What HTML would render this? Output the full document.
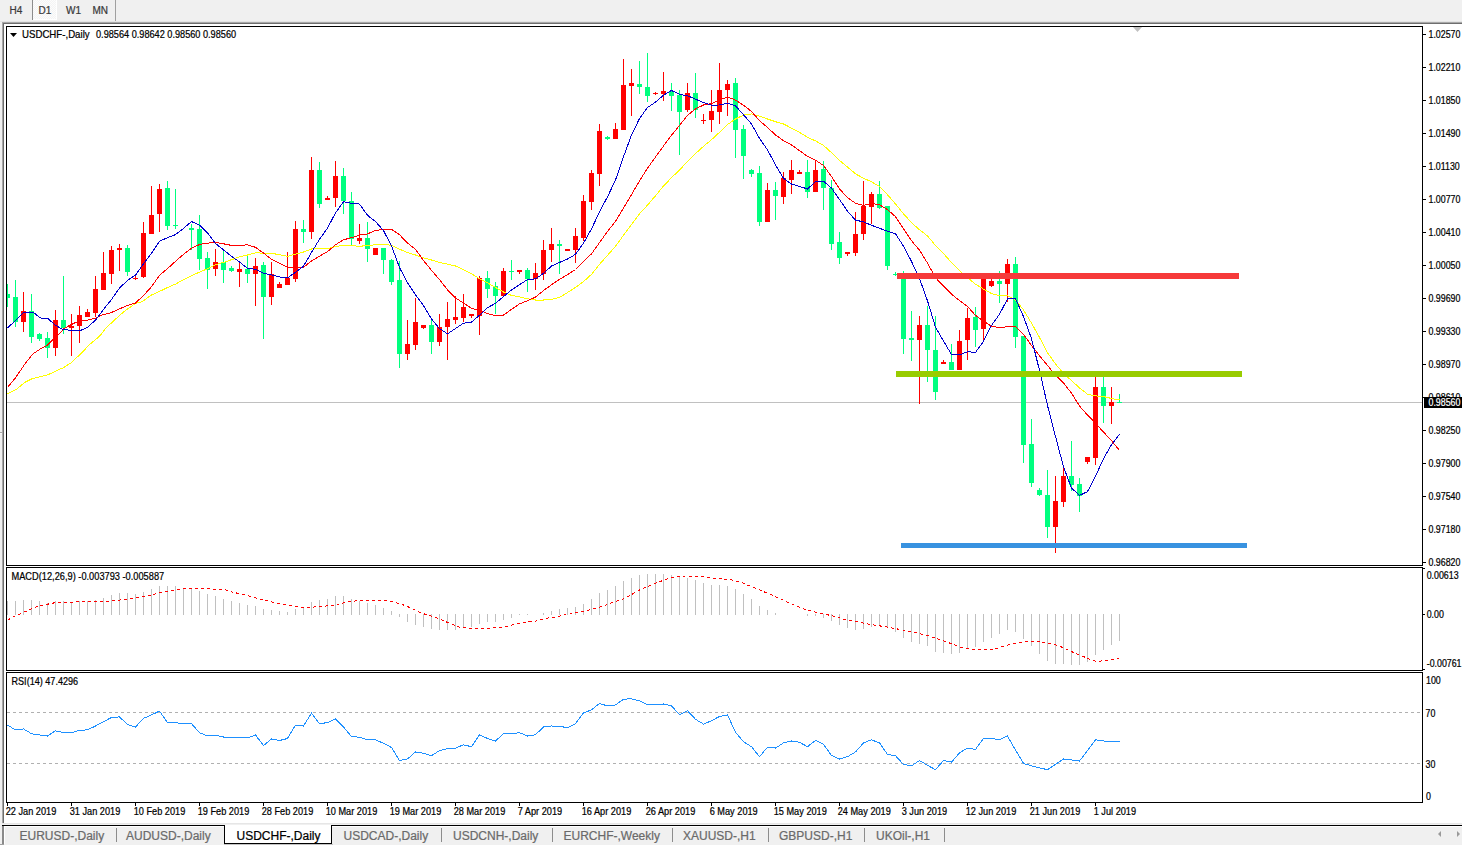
<!DOCTYPE html>
<html><head><meta charset="utf-8"><title>USDCHF-,Daily</title>
<style>
html,body{margin:0;padding:0;width:1462px;height:845px;overflow:hidden;background:#f0f0f0;}
svg{position:absolute;left:0;top:0;display:block}
text{font-family:"Liberation Sans",sans-serif;stroke-width:0.22px;}
</style></head><body>
<svg width="1462" height="845" viewBox="0 0 1462 845">
<defs>
<pattern id="dots" width="2" height="2" patternUnits="userSpaceOnUse"><rect width="2" height="2" fill="#f4f4f4"/><rect width="1" height="1" fill="#fcfcfc"/><rect x="1" y="1" width="1" height="1" fill="#fcfcfc"/></pattern>
<clipPath id="main"><rect x="7" y="27" width="1415" height="538"/></clipPath>
<clipPath id="macd"><rect x="7" y="568" width="1415" height="102"/></clipPath>
<clipPath id="rsi"><rect x="7" y="673" width="1415" height="129"/></clipPath>
</defs>
<rect width="1462" height="845" fill="#f0f0f0"/>

<g shape-rendering="crispEdges">
<rect x="33" y="0" width="24" height="19" fill="url(#dots)"/>
<rect x="56" y="0" width="1" height="20" fill="#ffffff"/><rect x="33" y="19" width="24" height="1" fill="#ffffff"/>
<rect x="32" y="0" width="1" height="20" fill="#8c8c8c"/>
<rect x="115" y="0" width="1" height="21" fill="#a0a0a0"/>
<rect x="0" y="21" width="1462" height="1" fill="#e4e4e4"/>
<rect x="2" y="22" width="1460" height="1" fill="#a8a8a8"/>
<rect x="2" y="23" width="1460" height="1" fill="#6e6e6e"/>
<rect x="2" y="22" width="1" height="802" fill="#a8a8a8"/>
<rect x="3" y="23" width="1" height="801" fill="#6e6e6e"/>
<rect x="4" y="24" width="1458" height="799" fill="#ffffff"/>
<rect x="2" y="823" width="1460" height="1" fill="#e6e6e6"/>
</g>
<g font-size="10" fill="#3a3a3a" stroke="#3a3a3a">
<text x="9.5" y="14">H4</text>
<text x="38.5" y="14">D1</text>
<text x="66" y="14">W1</text>
<text x="92.5" y="14">MN</text>
</g>
<g shape-rendering="crispEdges" fill="#000">
<rect x="6" y="26" width="1417" height="1"/>
<rect x="6" y="565" width="1417" height="1"/>
<rect x="6" y="26" width="1" height="540"/>
<rect x="1422" y="26" width="1" height="540"/>
<rect x="6" y="567" width="1417" height="1"/>
<rect x="6" y="670" width="1417" height="1"/>
<rect x="6" y="567" width="1" height="104"/>
<rect x="1422" y="567" width="1" height="104"/>
<rect x="6" y="672" width="1417" height="1"/>
<rect x="6" y="802" width="1417" height="1"/>
<rect x="6" y="672" width="1" height="131"/>
<rect x="1422" y="672" width="1" height="131"/>
<rect x="1423" y="34" width="3" height="1"/>
<rect x="1423" y="67" width="3" height="1"/>
<rect x="1423" y="100" width="3" height="1"/>
<rect x="1423" y="133" width="3" height="1"/>
<rect x="1423" y="166" width="3" height="1"/>
<rect x="1423" y="199" width="3" height="1"/>
<rect x="1423" y="232" width="3" height="1"/>
<rect x="1423" y="265" width="3" height="1"/>
<rect x="1423" y="298" width="3" height="1"/>
<rect x="1423" y="331" width="3" height="1"/>
<rect x="1423" y="364" width="3" height="1"/>
<rect x="1423" y="397" width="3" height="1"/>
<rect x="1423" y="430" width="3" height="1"/>
<rect x="1423" y="463" width="3" height="1"/>
<rect x="1423" y="496" width="3" height="1"/>
<rect x="1423" y="529" width="3" height="1"/>
<rect x="1423" y="562" width="3" height="1"/>
<rect x="1423" y="568" width="2" height="1"/>
<rect x="1423" y="614" width="2" height="1"/>
<rect x="1423" y="669" width="2" height="1"/>
<rect x="7" y="803" width="1" height="3"/>
<rect x="71" y="803" width="1" height="3"/>
<rect x="135" y="803" width="1" height="3"/>
<rect x="199" y="803" width="1" height="3"/>
<rect x="263" y="803" width="1" height="3"/>
<rect x="327" y="803" width="1" height="3"/>
<rect x="391" y="803" width="1" height="3"/>
<rect x="455" y="803" width="1" height="3"/>
<rect x="519" y="803" width="1" height="3"/>
<rect x="583" y="803" width="1" height="3"/>
<rect x="647" y="803" width="1" height="3"/>
<rect x="711" y="803" width="1" height="3"/>
<rect x="775" y="803" width="1" height="3"/>
<rect x="839" y="803" width="1" height="3"/>
<rect x="903" y="803" width="1" height="3"/>
<rect x="967" y="803" width="1" height="3"/>
<rect x="1031" y="803" width="1" height="3"/>
<rect x="1095" y="803" width="1" height="3"/>
</g>
<g clip-path="url(#main)">
<rect x="7" y="402" width="1415" height="1" fill="#c0c0c0" shape-rendering="crispEdges"/>
<polygon points="1133,27 1142,27 1137.5,32" fill="#c0c0c0"/>
<g shape-rendering="crispEdges">
<rect x="7" y="284" width="1" height="23" fill="#00ff7f"/>
<rect x="5" y="294" width="5" height="4" fill="#00ff7f"/>
<rect x="15" y="280" width="1" height="47" fill="#00ff7f"/>
<rect x="13" y="297" width="5" height="25" fill="#00ff7f"/>
<rect x="23" y="292" width="1" height="40" fill="#ff0000"/>
<rect x="21" y="311" width="5" height="11" fill="#ff0000"/>
<rect x="31" y="294" width="1" height="49" fill="#00ff7f"/>
<rect x="29" y="311" width="5" height="26" fill="#00ff7f"/>
<rect x="39" y="333" width="1" height="8" fill="#00ff7f"/>
<rect x="37" y="334" width="5" height="5" fill="#00ff7f"/>
<rect x="47" y="332" width="1" height="26" fill="#00ff7f"/>
<rect x="45" y="338" width="5" height="10" fill="#00ff7f"/>
<rect x="55" y="310" width="1" height="46" fill="#ff0000"/>
<rect x="53" y="320" width="5" height="28" fill="#ff0000"/>
<rect x="63" y="276" width="1" height="58" fill="#00ff7f"/>
<rect x="61" y="320" width="5" height="8" fill="#00ff7f"/>
<rect x="71" y="314" width="1" height="42" fill="#ff0000"/>
<rect x="69" y="326" width="5" height="2" fill="#ff0000"/>
<rect x="79" y="306" width="1" height="37" fill="#ff0000"/>
<rect x="77" y="315" width="5" height="11" fill="#ff0000"/>
<rect x="87" y="309" width="1" height="8" fill="#ff0000"/>
<rect x="85" y="312" width="5" height="5" fill="#ff0000"/>
<rect x="95" y="276" width="1" height="41" fill="#ff0000"/>
<rect x="93" y="289" width="5" height="24" fill="#ff0000"/>
<rect x="103" y="252" width="1" height="38" fill="#ff0000"/>
<rect x="101" y="273" width="5" height="17" fill="#ff0000"/>
<rect x="111" y="246" width="1" height="38" fill="#ff0000"/>
<rect x="109" y="250" width="5" height="24" fill="#ff0000"/>
<rect x="119" y="244" width="1" height="27" fill="#ff0000"/>
<rect x="117" y="248" width="5" height="2" fill="#ff0000"/>
<rect x="127" y="245" width="1" height="31" fill="#00ff7f"/>
<rect x="125" y="248" width="5" height="24" fill="#00ff7f"/>
<rect x="135" y="275" width="1" height="5" fill="#ff0000"/>
<rect x="133" y="278" width="5" height="1" fill="#ff0000"/>
<rect x="143" y="222" width="1" height="56" fill="#ff0000"/>
<rect x="141" y="233" width="5" height="44" fill="#ff0000"/>
<rect x="151" y="186" width="1" height="48" fill="#ff0000"/>
<rect x="149" y="215" width="5" height="19" fill="#ff0000"/>
<rect x="159" y="184" width="1" height="48" fill="#ff0000"/>
<rect x="157" y="189" width="5" height="25" fill="#ff0000"/>
<rect x="167" y="181" width="1" height="49" fill="#00ff7f"/>
<rect x="165" y="188" width="5" height="38" fill="#00ff7f"/>
<rect x="175" y="189" width="1" height="40" fill="#00ff7f"/>
<rect x="173" y="225" width="5" height="1" fill="#00ff7f"/>
<rect x="191" y="224" width="1" height="26" fill="#00ff7f"/>
<rect x="189" y="228" width="5" height="2" fill="#00ff7f"/>
<rect x="199" y="215" width="1" height="55" fill="#00ff7f"/>
<rect x="197" y="229" width="5" height="30" fill="#00ff7f"/>
<rect x="207" y="252" width="1" height="37" fill="#00ff7f"/>
<rect x="205" y="258" width="5" height="12" fill="#00ff7f"/>
<rect x="215" y="249" width="1" height="27" fill="#ff0000"/>
<rect x="213" y="262" width="5" height="7" fill="#ff0000"/>
<rect x="223" y="250" width="1" height="33" fill="#00ff7f"/>
<rect x="221" y="262" width="5" height="8" fill="#00ff7f"/>
<rect x="231" y="266" width="1" height="6" fill="#00ff7f"/>
<rect x="229" y="268" width="5" height="3" fill="#00ff7f"/>
<rect x="239" y="262" width="1" height="25" fill="#ff0000"/>
<rect x="237" y="269" width="5" height="3" fill="#ff0000"/>
<rect x="247" y="254" width="1" height="29" fill="#00ff7f"/>
<rect x="245" y="269" width="5" height="5" fill="#00ff7f"/>
<rect x="255" y="258" width="1" height="48" fill="#ff0000"/>
<rect x="253" y="266" width="5" height="8" fill="#ff0000"/>
<rect x="263" y="262" width="1" height="77" fill="#00ff7f"/>
<rect x="261" y="265" width="5" height="32" fill="#00ff7f"/>
<rect x="271" y="262" width="1" height="43" fill="#ff0000"/>
<rect x="269" y="274" width="5" height="23" fill="#ff0000"/>
<rect x="279" y="282" width="1" height="6" fill="#ff0000"/>
<rect x="277" y="284" width="5" height="4" fill="#ff0000"/>
<rect x="287" y="252" width="1" height="33" fill="#ff0000"/>
<rect x="285" y="278" width="5" height="7" fill="#ff0000"/>
<rect x="295" y="221" width="1" height="61" fill="#ff0000"/>
<rect x="293" y="229" width="5" height="50" fill="#ff0000"/>
<rect x="303" y="220" width="1" height="23" fill="#00ff7f"/>
<rect x="301" y="229" width="5" height="3" fill="#00ff7f"/>
<rect x="311" y="157" width="1" height="82" fill="#ff0000"/>
<rect x="309" y="170" width="5" height="62" fill="#ff0000"/>
<rect x="319" y="162" width="1" height="46" fill="#00ff7f"/>
<rect x="317" y="170" width="5" height="34" fill="#00ff7f"/>
<rect x="327" y="196" width="1" height="4" fill="#ff0000"/>
<rect x="325" y="198" width="5" height="2" fill="#ff0000"/>
<rect x="335" y="161" width="1" height="46" fill="#ff0000"/>
<rect x="333" y="176" width="5" height="22" fill="#ff0000"/>
<rect x="343" y="168" width="1" height="46" fill="#00ff7f"/>
<rect x="341" y="176" width="5" height="25" fill="#00ff7f"/>
<rect x="351" y="192" width="1" height="54" fill="#00ff7f"/>
<rect x="349" y="201" width="5" height="38" fill="#00ff7f"/>
<rect x="359" y="224" width="1" height="20" fill="#ff0000"/>
<rect x="357" y="238" width="5" height="3" fill="#ff0000"/>
<rect x="367" y="222" width="1" height="40" fill="#00ff7f"/>
<rect x="365" y="238" width="5" height="11" fill="#00ff7f"/>
<rect x="375" y="248" width="1" height="7" fill="#ff0000"/>
<rect x="373" y="248" width="5" height="7" fill="#ff0000"/>
<rect x="383" y="248" width="1" height="26" fill="#00ff7f"/>
<rect x="381" y="248" width="5" height="12" fill="#00ff7f"/>
<rect x="391" y="259" width="1" height="26" fill="#00ff7f"/>
<rect x="389" y="260" width="5" height="22" fill="#00ff7f"/>
<rect x="399" y="261" width="1" height="107" fill="#00ff7f"/>
<rect x="397" y="280" width="5" height="74" fill="#00ff7f"/>
<rect x="407" y="320" width="1" height="40" fill="#ff0000"/>
<rect x="405" y="344" width="5" height="10" fill="#ff0000"/>
<rect x="415" y="298" width="1" height="52" fill="#ff0000"/>
<rect x="413" y="322" width="5" height="23" fill="#ff0000"/>
<rect x="423" y="325" width="1" height="4" fill="#ff0000"/>
<rect x="421" y="325" width="5" height="3" fill="#ff0000"/>
<rect x="431" y="320" width="1" height="34" fill="#00ff7f"/>
<rect x="429" y="325" width="5" height="17" fill="#00ff7f"/>
<rect x="439" y="314" width="1" height="32" fill="#ff0000"/>
<rect x="437" y="327" width="5" height="15" fill="#ff0000"/>
<rect x="447" y="302" width="1" height="58" fill="#ff0000"/>
<rect x="445" y="319" width="5" height="8" fill="#ff0000"/>
<rect x="455" y="296" width="1" height="28" fill="#ff0000"/>
<rect x="453" y="317" width="5" height="3" fill="#ff0000"/>
<rect x="463" y="294" width="1" height="28" fill="#ff0000"/>
<rect x="461" y="307" width="5" height="11" fill="#ff0000"/>
<rect x="471" y="314" width="1" height="4" fill="#ff0000"/>
<rect x="469" y="314" width="5" height="2" fill="#ff0000"/>
<rect x="479" y="276" width="1" height="59" fill="#ff0000"/>
<rect x="477" y="278" width="5" height="38" fill="#ff0000"/>
<rect x="487" y="271" width="1" height="27" fill="#00ff7f"/>
<rect x="485" y="278" width="5" height="11" fill="#00ff7f"/>
<rect x="495" y="282" width="1" height="32" fill="#00ff7f"/>
<rect x="493" y="286" width="5" height="10" fill="#00ff7f"/>
<rect x="503" y="268" width="1" height="28" fill="#ff0000"/>
<rect x="501" y="271" width="5" height="25" fill="#ff0000"/>
<rect x="511" y="260" width="1" height="20" fill="#00ff7f"/>
<rect x="509" y="271" width="5" height="1" fill="#00ff7f"/>
<rect x="519" y="270" width="1" height="4" fill="#ff0000"/>
<rect x="517" y="270" width="5" height="2" fill="#ff0000"/>
<rect x="527" y="268" width="1" height="24" fill="#00ff7f"/>
<rect x="525" y="270" width="5" height="9" fill="#00ff7f"/>
<rect x="535" y="263" width="1" height="27" fill="#ff0000"/>
<rect x="533" y="273" width="5" height="6" fill="#ff0000"/>
<rect x="543" y="240" width="1" height="40" fill="#ff0000"/>
<rect x="541" y="250" width="5" height="24" fill="#ff0000"/>
<rect x="551" y="228" width="1" height="34" fill="#ff0000"/>
<rect x="549" y="244" width="5" height="6" fill="#ff0000"/>
<rect x="559" y="240" width="1" height="34" fill="#00ff7f"/>
<rect x="557" y="244" width="5" height="2" fill="#00ff7f"/>
<rect x="567" y="249" width="1" height="2" fill="#ff0000"/>
<rect x="565" y="249" width="5" height="2" fill="#ff0000"/>
<rect x="575" y="228" width="1" height="35" fill="#ff0000"/>
<rect x="573" y="236" width="5" height="14" fill="#ff0000"/>
<rect x="583" y="195" width="1" height="46" fill="#ff0000"/>
<rect x="581" y="201" width="5" height="37" fill="#ff0000"/>
<rect x="591" y="170" width="1" height="40" fill="#ff0000"/>
<rect x="589" y="173" width="5" height="29" fill="#ff0000"/>
<rect x="599" y="124" width="1" height="62" fill="#ff0000"/>
<rect x="597" y="131" width="5" height="43" fill="#ff0000"/>
<rect x="607" y="136" width="1" height="4" fill="#00ff7f"/>
<rect x="605" y="137" width="5" height="2" fill="#00ff7f"/>
<rect x="615" y="123" width="1" height="16" fill="#ff0000"/>
<rect x="613" y="129" width="5" height="10" fill="#ff0000"/>
<rect x="623" y="59" width="1" height="71" fill="#ff0000"/>
<rect x="621" y="85" width="5" height="45" fill="#ff0000"/>
<rect x="631" y="69" width="1" height="47" fill="#ff0000"/>
<rect x="629" y="83" width="5" height="3" fill="#ff0000"/>
<rect x="639" y="61" width="1" height="33" fill="#00ff7f"/>
<rect x="637" y="84" width="5" height="3" fill="#00ff7f"/>
<rect x="647" y="53" width="1" height="49" fill="#00ff7f"/>
<rect x="645" y="87" width="5" height="9" fill="#00ff7f"/>
<rect x="655" y="92" width="1" height="3" fill="#ff0000"/>
<rect x="653" y="93" width="5" height="1" fill="#ff0000"/>
<rect x="663" y="72" width="1" height="29" fill="#ff0000"/>
<rect x="661" y="91" width="5" height="3" fill="#ff0000"/>
<rect x="671" y="83" width="1" height="28" fill="#00ff7f"/>
<rect x="669" y="91" width="5" height="5" fill="#00ff7f"/>
<rect x="679" y="90" width="1" height="65" fill="#00ff7f"/>
<rect x="677" y="95" width="5" height="17" fill="#00ff7f"/>
<rect x="687" y="83" width="1" height="29" fill="#ff0000"/>
<rect x="685" y="93" width="5" height="17" fill="#ff0000"/>
<rect x="695" y="73" width="1" height="45" fill="#00ff7f"/>
<rect x="693" y="93" width="5" height="17" fill="#00ff7f"/>
<rect x="703" y="114" width="1" height="10" fill="#ff0000"/>
<rect x="701" y="120" width="5" height="1" fill="#ff0000"/>
<rect x="711" y="90" width="1" height="42" fill="#ff0000"/>
<rect x="709" y="111" width="5" height="9" fill="#ff0000"/>
<rect x="719" y="63" width="1" height="61" fill="#ff0000"/>
<rect x="717" y="90" width="5" height="22" fill="#ff0000"/>
<rect x="727" y="80" width="1" height="36" fill="#ff0000"/>
<rect x="725" y="84" width="5" height="6" fill="#ff0000"/>
<rect x="735" y="78" width="1" height="80" fill="#00ff7f"/>
<rect x="733" y="83" width="5" height="47" fill="#00ff7f"/>
<rect x="743" y="125" width="1" height="54" fill="#00ff7f"/>
<rect x="741" y="129" width="5" height="27" fill="#00ff7f"/>
<rect x="751" y="169" width="1" height="8" fill="#00ff7f"/>
<rect x="749" y="170" width="5" height="4" fill="#00ff7f"/>
<rect x="759" y="166" width="1" height="60" fill="#00ff7f"/>
<rect x="757" y="173" width="5" height="49" fill="#00ff7f"/>
<rect x="767" y="183" width="1" height="39" fill="#ff0000"/>
<rect x="765" y="190" width="5" height="32" fill="#ff0000"/>
<rect x="775" y="182" width="1" height="38" fill="#00ff7f"/>
<rect x="773" y="190" width="5" height="6" fill="#00ff7f"/>
<rect x="783" y="172" width="1" height="32" fill="#ff0000"/>
<rect x="781" y="178" width="5" height="19" fill="#ff0000"/>
<rect x="791" y="160" width="1" height="34" fill="#ff0000"/>
<rect x="789" y="170" width="5" height="10" fill="#ff0000"/>
<rect x="799" y="170" width="1" height="4" fill="#ff0000"/>
<rect x="797" y="172" width="5" height="2" fill="#ff0000"/>
<rect x="807" y="160" width="1" height="38" fill="#00ff7f"/>
<rect x="805" y="172" width="5" height="20" fill="#00ff7f"/>
<rect x="815" y="161" width="1" height="31" fill="#ff0000"/>
<rect x="813" y="170" width="5" height="22" fill="#ff0000"/>
<rect x="823" y="161" width="1" height="49" fill="#00ff7f"/>
<rect x="821" y="169" width="5" height="19" fill="#00ff7f"/>
<rect x="831" y="180" width="1" height="70" fill="#00ff7f"/>
<rect x="829" y="188" width="5" height="56" fill="#00ff7f"/>
<rect x="839" y="232" width="1" height="32" fill="#00ff7f"/>
<rect x="837" y="242" width="5" height="16" fill="#00ff7f"/>
<rect x="847" y="252" width="1" height="4" fill="#ff0000"/>
<rect x="845" y="252" width="5" height="2" fill="#ff0000"/>
<rect x="855" y="212" width="1" height="44" fill="#ff0000"/>
<rect x="853" y="234" width="5" height="19" fill="#ff0000"/>
<rect x="863" y="181" width="1" height="59" fill="#ff0000"/>
<rect x="861" y="206" width="5" height="28" fill="#ff0000"/>
<rect x="871" y="192" width="1" height="32" fill="#ff0000"/>
<rect x="869" y="194" width="5" height="13" fill="#ff0000"/>
<rect x="879" y="181" width="1" height="28" fill="#00ff7f"/>
<rect x="877" y="194" width="5" height="14" fill="#00ff7f"/>
<rect x="887" y="206" width="1" height="64" fill="#00ff7f"/>
<rect x="885" y="206" width="5" height="60" fill="#00ff7f"/>
<rect x="895" y="272" width="1" height="4" fill="#00ff7f"/>
<rect x="893" y="274" width="5" height="1" fill="#00ff7f"/>
<rect x="903" y="271" width="1" height="83" fill="#00ff7f"/>
<rect x="901" y="279" width="5" height="60" fill="#00ff7f"/>
<rect x="911" y="311" width="1" height="50" fill="#00ff7f"/>
<rect x="909" y="338" width="5" height="2" fill="#00ff7f"/>
<rect x="919" y="316" width="1" height="88" fill="#ff0000"/>
<rect x="917" y="325" width="5" height="15" fill="#ff0000"/>
<rect x="927" y="306" width="1" height="76" fill="#00ff7f"/>
<rect x="925" y="325" width="5" height="25" fill="#00ff7f"/>
<rect x="935" y="316" width="1" height="84" fill="#00ff7f"/>
<rect x="933" y="350" width="5" height="42" fill="#00ff7f"/>
<rect x="943" y="360" width="1" height="4" fill="#ff0000"/>
<rect x="941" y="362" width="5" height="2" fill="#ff0000"/>
<rect x="951" y="344" width="1" height="26" fill="#00ff7f"/>
<rect x="949" y="362" width="5" height="8" fill="#00ff7f"/>
<rect x="959" y="330" width="1" height="40" fill="#ff0000"/>
<rect x="957" y="341" width="5" height="29" fill="#ff0000"/>
<rect x="967" y="308" width="1" height="52" fill="#ff0000"/>
<rect x="965" y="318" width="5" height="22" fill="#ff0000"/>
<rect x="975" y="307" width="1" height="40" fill="#00ff7f"/>
<rect x="973" y="317" width="5" height="13" fill="#00ff7f"/>
<rect x="983" y="273" width="1" height="68" fill="#ff0000"/>
<rect x="981" y="273" width="5" height="56" fill="#ff0000"/>
<rect x="991" y="273" width="1" height="14" fill="#ff0000"/>
<rect x="989" y="281" width="5" height="5" fill="#ff0000"/>
<rect x="999" y="271" width="1" height="32" fill="#00ff7f"/>
<rect x="997" y="281" width="5" height="3" fill="#00ff7f"/>
<rect x="1007" y="259" width="1" height="43" fill="#ff0000"/>
<rect x="1005" y="264" width="5" height="20" fill="#ff0000"/>
<rect x="1015" y="257" width="1" height="91" fill="#00ff7f"/>
<rect x="1013" y="264" width="5" height="73" fill="#00ff7f"/>
<rect x="1023" y="336" width="1" height="127" fill="#00ff7f"/>
<rect x="1021" y="336" width="5" height="109" fill="#00ff7f"/>
<rect x="1031" y="419" width="1" height="68" fill="#00ff7f"/>
<rect x="1029" y="444" width="5" height="39" fill="#00ff7f"/>
<rect x="1039" y="488" width="1" height="8" fill="#00ff7f"/>
<rect x="1037" y="490" width="5" height="5" fill="#00ff7f"/>
<rect x="1047" y="470" width="1" height="68" fill="#00ff7f"/>
<rect x="1045" y="495" width="5" height="32" fill="#00ff7f"/>
<rect x="1055" y="476" width="1" height="77" fill="#ff0000"/>
<rect x="1053" y="501" width="5" height="26" fill="#ff0000"/>
<rect x="1063" y="468" width="1" height="39" fill="#ff0000"/>
<rect x="1061" y="476" width="5" height="26" fill="#ff0000"/>
<rect x="1071" y="441" width="1" height="50" fill="#00ff7f"/>
<rect x="1069" y="476" width="5" height="9" fill="#00ff7f"/>
<rect x="1079" y="478" width="1" height="34" fill="#00ff7f"/>
<rect x="1077" y="484" width="5" height="12" fill="#00ff7f"/>
<rect x="1087" y="457" width="1" height="7" fill="#ff0000"/>
<rect x="1085" y="457" width="5" height="5" fill="#ff0000"/>
<rect x="1095" y="377" width="1" height="88" fill="#ff0000"/>
<rect x="1093" y="387" width="5" height="71" fill="#ff0000"/>
<rect x="1103" y="377" width="1" height="46" fill="#00ff7f"/>
<rect x="1101" y="387" width="5" height="19" fill="#00ff7f"/>
<rect x="1111" y="387" width="1" height="37" fill="#ff0000"/>
<rect x="1109" y="402" width="5" height="4" fill="#ff0000"/>
<rect x="1119" y="394" width="1" height="9" fill="#00ff7f"/>
<rect x="1117" y="402" width="5" height="1" fill="#00ff7f"/>
</g>
<polyline points="7.6,393.9 15.9,389.7 25.4,382.0 32.5,378.5 40.7,376.7 47.8,374.9 56.1,370.8 63.2,367.8 71.5,362.5 83.3,351.3 88.0,346.0 100.5,335.3 105.5,328.5 120.5,314.5 125.5,310.5 135.5,303.5 142.5,301.5 150.5,295.5 161.5,290.5 167.5,287.5 175.5,284.1 183.5,279.7 191.5,275.8 199.5,272.1 207.5,268.8 215.5,264.7 223.5,262.4 231.5,259.7 239.5,256.9 247.5,255.0 255.5,252.8 263.5,253.2 271.5,253.2 279.5,254.8 287.5,256.3 295.5,254.2 303.5,252.0 311.5,249.0 319.5,248.5 327.5,248.9 335.5,246.5 343.5,245.3 351.5,245.8 359.5,246.2 367.5,245.7 375.5,244.7 383.5,244.6 391.5,245.2 399.5,249.1 407.5,252.7 415.5,255.0 423.5,257.8 431.5,260.0 439.5,262.5 447.5,264.1 455.5,266.0 463.5,269.7 471.5,273.6 479.5,278.8 487.5,282.8 495.5,287.5 503.5,292.0 511.5,295.4 519.5,296.9 527.5,298.8 535.5,300.0 543.5,300.0 551.5,299.3 559.5,297.5 567.5,292.5 575.5,287.4 583.5,281.6 591.5,274.4 599.5,264.3 607.5,255.4 615.5,246.3 623.5,235.3 631.5,224.6 639.5,213.8 647.5,205.1 655.5,195.8 663.5,186.0 671.5,177.7 679.5,170.0 687.5,161.6 695.5,153.6 703.5,146.3 711.5,139.7 719.5,132.3 727.5,124.6 735.5,119.0 743.5,115.1 751.5,113.9 759.5,116.2 767.5,119.0 775.5,121.7 783.5,124.0 791.5,128.1 799.5,132.3 807.5,137.3 815.5,140.9 823.5,145.4 831.5,152.7 839.5,160.4 847.5,167.0 855.5,173.8 863.5,178.3 871.5,181.8 879.5,186.4 887.5,194.8 895.5,203.9 903.5,213.8 911.5,222.6 919.5,229.8 927.5,235.9 935.5,245.5 943.5,253.5 951.5,262.6 959.5,270.8 967.5,277.7 975.5,284.2 983.5,289.1 991.5,293.6 999.5,295.5 1007.5,295.8 1015.5,299.9 1023.5,309.9 1031.5,323.1 1039.5,337.5 1047.5,352.7 1055.5,363.9 1063.5,373.5 1071.5,380.5 1079.5,387.9 1087.5,394.2 1095.5,395.9 1103.5,396.5 1111.5,398.5 1119.5,400.0" fill="none" stroke="#ffff00" stroke-width="1" shape-rendering="crispEdges" />
<polyline points="7.5,387.4 15.9,377.3 24.2,364.9 32.5,354.2 39.5,349.5 47.8,344.8 52.5,340.0 59.7,333.5 64.4,328.2 71.5,324.5 78.5,321.1 85.5,320.5 95.2,318.4 100.5,315.5 111.5,312.5 119.5,308.9 127.5,305.4 135.5,303.0 143.5,295.5 151.5,286.7 159.5,275.3 167.5,268.6 175.5,261.3 183.5,254.4 191.5,248.3 199.5,244.5 207.5,243.1 215.5,242.4 223.5,243.8 231.5,245.4 239.5,245.2 247.5,244.9 255.5,247.3 263.5,253.1 271.5,259.2 279.5,263.4 287.5,267.1 295.5,267.1 303.5,267.3 311.5,260.9 319.5,256.2 327.5,251.6 335.5,244.8 343.5,239.8 351.5,237.7 359.5,235.1 367.5,233.9 375.5,230.4 383.5,229.4 391.5,229.3 399.5,234.7 407.5,243.0 415.5,249.4 423.5,260.5 431.5,270.3 439.5,279.6 447.5,289.8 455.5,298.1 463.5,302.9 471.5,308.4 479.5,310.5 487.5,313.4 495.5,315.9 503.5,315.1 511.5,309.3 519.5,303.9 527.5,300.8 535.5,297.1 543.5,290.6 551.5,284.7 559.5,279.4 567.5,274.6 575.5,269.5 583.5,261.4 591.5,253.9 599.5,242.6 607.5,231.4 615.5,221.3 623.5,207.9 631.5,194.6 639.5,180.9 647.5,168.2 655.5,157.0 663.5,146.0 671.5,135.3 679.5,125.5 687.5,115.3 695.5,108.9 703.5,105.0 711.5,103.6 719.5,100.1 727.5,96.9 735.5,100.1 743.5,105.2 751.5,111.5 759.5,120.6 767.5,127.5 775.5,134.9 783.5,140.8 791.5,144.9 799.5,150.6 807.5,156.4 815.5,160.1 823.5,165.5 831.5,176.5 839.5,188.9 847.5,197.7 855.5,203.2 863.5,205.5 871.5,203.4 879.5,204.7 887.5,209.7 895.5,216.6 903.5,228.7 911.5,240.7 919.5,250.2 927.5,263.1 935.5,277.7 943.5,286.2 951.5,294.2 959.5,300.6 967.5,306.5 975.5,315.4 983.5,321.1 991.5,326.3 999.5,327.6 1007.5,326.8 1015.5,326.7 1023.5,334.2 1031.5,345.5 1039.5,355.8 1047.5,365.4 1055.5,375.3 1063.5,382.9 1071.5,393.2 1079.5,406.0 1087.5,415.1 1095.5,423.2 1103.5,432.1 1111.5,440.6 1119.5,450.5" fill="none" stroke="#ff0000" stroke-width="1" shape-rendering="crispEdges" />
<polyline points="7.5,328.0 15.5,320.5 24.2,312.0 33.5,312.5 40.5,318.0 47.8,318.5 55.5,325.4 63.5,329.7 71.5,330.3 79.5,330.9 87.5,327.3 95.5,320.1 103.5,309.4 111.5,299.5 119.5,288.1 127.5,280.4 135.5,275.1 143.5,263.8 151.5,253.2 159.5,241.2 167.5,237.7 175.5,234.6 183.5,228.4 191.5,221.5 199.5,225.2 207.5,233.0 215.5,243.5 223.5,249.9 231.5,256.3 239.5,262.0 247.5,268.3 255.5,269.4 263.5,273.2 271.5,274.9 279.5,276.9 287.5,277.9 295.5,272.2 303.5,266.2 311.5,252.5 319.5,239.2 327.5,228.2 335.5,212.8 343.5,201.8 351.5,203.2 359.5,204.1 367.5,215.3 375.5,221.6 383.5,230.6 391.5,245.8 399.5,267.6 407.5,282.7 415.5,294.7 423.5,305.6 431.5,319.0 439.5,328.5 447.5,333.8 455.5,328.5 463.5,323.2 471.5,322.1 479.5,315.3 487.5,307.7 495.5,303.3 503.5,296.5 511.5,290.0 519.5,284.7 527.5,279.6 535.5,278.9 543.5,273.4 551.5,266.0 559.5,262.4 567.5,259.1 575.5,254.3 583.5,243.2 591.5,228.9 599.5,211.9 607.5,196.8 615.5,180.1 623.5,156.8 631.5,134.9 639.5,118.6 647.5,107.5 655.5,102.1 663.5,95.2 671.5,90.5 679.5,94.3 687.5,95.8 695.5,99.1 703.5,102.6 711.5,105.1 719.5,105.0 727.5,103.3 735.5,105.8 743.5,114.8 751.5,123.9 759.5,138.5 767.5,149.8 775.5,164.9 783.5,178.4 791.5,184.1 799.5,186.4 807.5,189.0 815.5,181.6 823.5,181.2 831.5,188.1 839.5,199.5 847.5,211.2 855.5,220.1 863.5,221.9 871.5,225.3 879.5,228.2 887.5,231.3 895.5,233.8 903.5,246.2 911.5,261.4 919.5,278.4 927.5,300.8 935.5,327.2 943.5,341.0 951.5,354.6 959.5,354.9 967.5,351.7 975.5,352.4 983.5,341.3 991.5,325.4 999.5,314.2 1007.5,299.0 1015.5,298.5 1023.5,316.6 1031.5,338.6 1039.5,370.3 1047.5,405.5 1055.5,436.5 1063.5,466.8 1071.5,488.0 1079.5,495.4 1087.5,491.6 1095.5,476.1 1103.5,458.8 1111.5,444.7 1119.5,434.2" fill="none" stroke="#0000cd" stroke-width="1" shape-rendering="crispEdges" />
<g shape-rendering="crispEdges">
<rect x="897" y="273" width="342" height="6" fill="#f63a3a"/>
<rect x="896" y="371" width="346" height="6" fill="#99cc00"/>
<rect x="901" y="543" width="346" height="5" fill="#3892e0"/>
</g>
</g>
<polygon points="10,33 17,33 13.5,37" fill="#000"/>
<text x="22" y="38" font-size="10" fill="#000" stroke="#000" transform="translate(22,38) scale(0.967,1) translate(-22,-38)">USDCHF-,Daily</text>
<text x="96" y="38" font-size="10" fill="#000" stroke="#000" transform="translate(96,38) scale(0.918,1) translate(-96,-38)">0.98564 0.98642 0.98560 0.98560</text>
<g font-size="10" fill="#000" stroke="#000">
<text transform="translate(1428.5,38) scale(0.883,1)">1.02570</text>
<text transform="translate(1428.5,71) scale(0.883,1)">1.02210</text>
<text transform="translate(1428.5,104) scale(0.883,1)">1.01850</text>
<text transform="translate(1428.5,137) scale(0.883,1)">1.01490</text>
<text transform="translate(1428.5,170) scale(0.883,1)">1.01130</text>
<text transform="translate(1428.5,203) scale(0.883,1)">1.00770</text>
<text transform="translate(1428.5,236) scale(0.883,1)">1.00410</text>
<text transform="translate(1428.5,269) scale(0.883,1)">1.00050</text>
<text transform="translate(1428.5,302) scale(0.883,1)">0.99690</text>
<text transform="translate(1428.5,335) scale(0.883,1)">0.99330</text>
<text transform="translate(1428.5,368) scale(0.883,1)">0.98970</text>
<text transform="translate(1428.5,401) scale(0.883,1)">0.98610</text>
<text transform="translate(1428.5,434) scale(0.883,1)">0.98250</text>
<text transform="translate(1428.5,467) scale(0.883,1)">0.97900</text>
<text transform="translate(1428.5,500) scale(0.883,1)">0.97540</text>
<text transform="translate(1428.5,533) scale(0.883,1)">0.97180</text>
<text transform="translate(1428.5,566) scale(0.883,1)">0.96820</text>
</g>
<rect x="1424" y="397" width="38" height="11" fill="#000" shape-rendering="crispEdges"/>
<text transform="translate(1428.5,406) scale(0.883,1)" font-size="10" fill="#fff" stroke="#fff">0.98560</text>
<g clip-path="url(#macd)">
<g shape-rendering="crispEdges" fill="#c0c0c0">
<rect x="7" y="601" width="1" height="14"/>
<rect x="15" y="601" width="1" height="14"/>
<rect x="23" y="600" width="1" height="15"/>
<rect x="31" y="600" width="1" height="15"/>
<rect x="39" y="601" width="1" height="14"/>
<rect x="47" y="603" width="1" height="12"/>
<rect x="55" y="601" width="1" height="14"/>
<rect x="63" y="601" width="1" height="14"/>
<rect x="71" y="603" width="1" height="12"/>
<rect x="79" y="601" width="1" height="14"/>
<rect x="87" y="601" width="1" height="14"/>
<rect x="95" y="600" width="1" height="15"/>
<rect x="103" y="598" width="1" height="17"/>
<rect x="111" y="595" width="1" height="20"/>
<rect x="119" y="593" width="1" height="22"/>
<rect x="127" y="593" width="1" height="22"/>
<rect x="135" y="594" width="1" height="21"/>
<rect x="143" y="592" width="1" height="23"/>
<rect x="151" y="589" width="1" height="26"/>
<rect x="159" y="586" width="1" height="29"/>
<rect x="167" y="586" width="1" height="29"/>
<rect x="175" y="586" width="1" height="29"/>
<rect x="183" y="588" width="1" height="27"/>
<rect x="191" y="588" width="1" height="27"/>
<rect x="199" y="591" width="1" height="24"/>
<rect x="207" y="594" width="1" height="21"/>
<rect x="215" y="596" width="1" height="19"/>
<rect x="223" y="599" width="1" height="16"/>
<rect x="231" y="601" width="1" height="14"/>
<rect x="239" y="603" width="1" height="12"/>
<rect x="247" y="605" width="1" height="10"/>
<rect x="255" y="606" width="1" height="9"/>
<rect x="263" y="609" width="1" height="6"/>
<rect x="271" y="610" width="1" height="5"/>
<rect x="279" y="611" width="1" height="4"/>
<rect x="287" y="612" width="1" height="3"/>
<rect x="295" y="609" width="1" height="6"/>
<rect x="303" y="608" width="1" height="7"/>
<rect x="311" y="602" width="1" height="13"/>
<rect x="319" y="600" width="1" height="15"/>
<rect x="327" y="599" width="1" height="16"/>
<rect x="335" y="596" width="1" height="19"/>
<rect x="343" y="596" width="1" height="19"/>
<rect x="351" y="599" width="1" height="16"/>
<rect x="359" y="601" width="1" height="14"/>
<rect x="367" y="603" width="1" height="12"/>
<rect x="375" y="605" width="1" height="10"/>
<rect x="383" y="608" width="1" height="7"/>
<rect x="391" y="611" width="1" height="4"/>
<rect x="399" y="614" width="1" height="3"/>
<rect x="407" y="614" width="1" height="8"/>
<rect x="415" y="614" width="1" height="11"/>
<rect x="423" y="614" width="1" height="13"/>
<rect x="431" y="614" width="1" height="15"/>
<rect x="439" y="614" width="1" height="16"/>
<rect x="447" y="614" width="1" height="16"/>
<rect x="455" y="614" width="1" height="16"/>
<rect x="463" y="614" width="1" height="13"/>
<rect x="471" y="614" width="1" height="13"/>
<rect x="479" y="614" width="1" height="10"/>
<rect x="487" y="614" width="1" height="8"/>
<rect x="495" y="614" width="1" height="8"/>
<rect x="503" y="614" width="1" height="6"/>
<rect x="511" y="614" width="1" height="4"/>
<rect x="519" y="614" width="1" height="1"/>
<rect x="527" y="614" width="1" height="1"/>
<rect x="543" y="613" width="1" height="2"/>
<rect x="551" y="611" width="1" height="4"/>
<rect x="559" y="609" width="1" height="6"/>
<rect x="567" y="608" width="1" height="7"/>
<rect x="575" y="607" width="1" height="8"/>
<rect x="583" y="604" width="1" height="11"/>
<rect x="591" y="599" width="1" height="16"/>
<rect x="599" y="593" width="1" height="22"/>
<rect x="607" y="590" width="1" height="25"/>
<rect x="615" y="586" width="1" height="29"/>
<rect x="623" y="581" width="1" height="34"/>
<rect x="631" y="578" width="1" height="37"/>
<rect x="639" y="575" width="1" height="40"/>
<rect x="647" y="574" width="1" height="41"/>
<rect x="655" y="574" width="1" height="41"/>
<rect x="663" y="574" width="1" height="41"/>
<rect x="671" y="575" width="1" height="40"/>
<rect x="679" y="577" width="1" height="38"/>
<rect x="687" y="578" width="1" height="37"/>
<rect x="695" y="580" width="1" height="35"/>
<rect x="703" y="583" width="1" height="32"/>
<rect x="711" y="585" width="1" height="30"/>
<rect x="719" y="585" width="1" height="30"/>
<rect x="727" y="586" width="1" height="29"/>
<rect x="735" y="589" width="1" height="26"/>
<rect x="743" y="594" width="1" height="21"/>
<rect x="751" y="599" width="1" height="16"/>
<rect x="759" y="606" width="1" height="9"/>
<rect x="767" y="610" width="1" height="5"/>
<rect x="775" y="613" width="1" height="2"/>
<rect x="807" y="614" width="1" height="2"/>
<rect x="815" y="614" width="1" height="2"/>
<rect x="823" y="614" width="1" height="4"/>
<rect x="831" y="614" width="1" height="7"/>
<rect x="839" y="614" width="1" height="11"/>
<rect x="847" y="614" width="1" height="14"/>
<rect x="855" y="614" width="1" height="16"/>
<rect x="863" y="614" width="1" height="15"/>
<rect x="871" y="614" width="1" height="13"/>
<rect x="879" y="614" width="1" height="12"/>
<rect x="887" y="614" width="1" height="14"/>
<rect x="895" y="614" width="1" height="18"/>
<rect x="903" y="614" width="1" height="24"/>
<rect x="911" y="614" width="1" height="28"/>
<rect x="919" y="614" width="1" height="30"/>
<rect x="927" y="614" width="1" height="32"/>
<rect x="935" y="614" width="1" height="38"/>
<rect x="943" y="614" width="1" height="39"/>
<rect x="951" y="614" width="1" height="40"/>
<rect x="959" y="614" width="1" height="39"/>
<rect x="967" y="614" width="1" height="35"/>
<rect x="975" y="614" width="1" height="33"/>
<rect x="983" y="614" width="1" height="28"/>
<rect x="991" y="614" width="1" height="24"/>
<rect x="999" y="614" width="1" height="20"/>
<rect x="1007" y="614" width="1" height="16"/>
<rect x="1015" y="614" width="1" height="18"/>
<rect x="1023" y="614" width="1" height="25"/>
<rect x="1031" y="614" width="1" height="32"/>
<rect x="1039" y="614" width="1" height="40"/>
<rect x="1047" y="614" width="1" height="47"/>
<rect x="1055" y="614" width="1" height="50"/>
<rect x="1063" y="614" width="1" height="50"/>
<rect x="1071" y="614" width="1" height="51"/>
<rect x="1079" y="614" width="1" height="51"/>
<rect x="1087" y="614" width="1" height="48"/>
<rect x="1095" y="614" width="1" height="41"/>
<rect x="1103" y="614" width="1" height="36"/>
<rect x="1111" y="614" width="1" height="31"/>
<rect x="1119" y="614" width="1" height="27"/>
</g>
<polyline points="7.5,620.1 15.8,615.7 32.1,608.5 40.1,605.7 56.0,602.5 80.0,601.9 103.9,601.9 119.8,600.0 135.9,597.7 151.8,595.2 159.9,592.3 176.1,590.0 184.0,588.9 207.9,588.9 224.0,589.5 231.9,591.9 248.0,595.8 263.9,600.0 279.8,603.8 287.0,604.8 304.2,607.6 319.5,606.7 333.0,605.3 346.4,602.3 355.9,600.9 375.1,600.0 392.3,601.5 405.7,605.7 421.1,613.0 436.4,617.6 447.9,622.6 459.4,627.2 472.8,628.7 490.0,628.3 507.3,626.4 518.7,623.3 536.0,621.0 543.6,618.7 559.2,616.3 566.8,613.8 582.1,611.5 597.5,608.0 609.0,603.8 624.3,598.5 639.6,590.0 656.8,582.7 670.3,577.9 685.5,576.0 700.9,576.0 716.2,578.5 731.5,579.9 743.0,583.1 758.4,589.5 773.7,595.8 789.0,602.8 806.2,609.9 819.6,613.0 831.5,615.7 847.5,620.1 855.2,621.4 870.5,624.5 885.8,626.8 901.1,629.7 916.5,632.9 931.8,636.8 947.1,642.1 962.4,647.9 977.7,649.8 993.1,649.4 1008.4,645.0 1023.7,641.7 1035.2,641.2 1046.9,642.9 1052.9,643.9 1059.0,645.9 1065.0,648.5 1071.0,651.4 1077.1,653.9 1083.1,656.4 1089.2,659.0 1095.2,661.0 1100.9,661.0 1106.9,660.6 1112.9,659.6 1118.6,658.0" fill="none" stroke="#ff0000" stroke-width="1" shape-rendering="crispEdges" stroke-dasharray="3,3"/>
</g>
<text transform="translate(11.5,580) scale(0.926,1)" font-size="10" fill="#000" stroke="#000">MACD(12,26,9) -0.003793 -0.005887</text>
<g font-size="10" fill="#000" stroke="#000">
<text transform="translate(1426.7,578.5) scale(0.883,1)">0.00613</text>
<text transform="translate(1426.7,618) scale(0.883,1)">0.00</text>
<text transform="translate(1426.7,667) scale(0.883,1)">-0.00761</text>
</g>
<g clip-path="url(#rsi)">
<line x1="7" y1="712.5" x2="1422" y2="712.5" stroke="#b0b0b0" stroke-width="1" stroke-dasharray="3,3" shape-rendering="crispEdges"/>
<line x1="7" y1="763.5" x2="1422" y2="763.5" stroke="#b0b0b0" stroke-width="1" stroke-dasharray="3,3" shape-rendering="crispEdges"/>
<polyline points="7.5,725.1 15.5,729.9 23.5,728.9 31.5,733.7 39.5,735.0 47.5,736.0 55.5,730.8 63.5,732.7 71.5,732.7 79.5,730.3 87.5,729.9 95.5,726.0 103.5,721.8 111.5,717.4 119.5,716.9 127.5,724.5 135.5,727.0 143.5,718.4 151.5,714.9 159.5,711.1 167.5,722.6 175.5,722.6 183.5,723.7 191.5,723.7 199.5,732.7 207.5,736.0 215.5,735.2 223.5,737.0 231.5,737.0 239.5,737.0 247.5,737.9 255.5,735.0 263.5,745.6 271.5,738.9 279.5,740.5 287.5,738.5 295.5,725.1 303.5,726.0 311.5,713.0 319.5,723.7 327.5,722.6 335.5,718.8 343.5,727.0 351.5,736.6 359.5,737.2 367.5,739.8 375.5,739.8 383.5,743.3 391.5,747.5 399.5,760.5 407.5,759.0 415.5,751.9 423.5,753.2 431.5,755.7 439.5,750.6 447.5,748.6 455.5,748.1 463.5,744.8 471.5,746.7 479.5,734.7 487.5,738.5 495.5,741.0 503.5,733.7 511.5,733.7 519.5,732.7 527.5,736.0 535.5,734.7 543.5,727.0 551.5,726.0 559.5,726.4 567.5,727.6 575.5,723.7 583.5,713.0 591.5,709.8 599.5,703.5 607.5,705.9 615.5,705.0 623.5,699.2 631.5,698.8 639.5,700.8 647.5,704.6 655.5,705.0 663.5,704.0 671.5,705.9 679.5,714.6 687.5,710.7 695.5,719.3 703.5,724.1 711.5,720.7 719.5,716.5 727.5,714.9 735.5,732.2 743.5,741.8 751.5,746.7 759.5,756.7 767.5,747.1 775.5,748.1 783.5,742.9 791.5,741.0 799.5,742.3 807.5,746.7 815.5,740.4 823.5,744.2 831.5,755.5 839.5,759.0 847.5,756.7 855.5,751.9 863.5,742.9 871.5,739.8 879.5,742.9 887.5,754.4 895.5,755.7 903.5,764.4 911.5,765.9 919.5,760.5 927.5,765.3 935.5,769.7 943.5,760.5 951.5,762.1 959.5,752.9 967.5,748.1 975.5,749.4 983.5,738.5 991.5,738.5 999.5,739.8 1007.5,736.0 1015.5,750.0 1023.5,763.4 1031.5,765.9 1039.5,767.8 1047.5,769.7 1055.5,764.4 1063.5,759.0 1071.5,759.9 1079.5,761.0 1087.5,750.5 1095.5,739.8 1103.5,741.0 1111.5,741.9 1119.5,741.9" fill="none" stroke="#1e90ff" stroke-width="1" shape-rendering="crispEdges" />
</g>
<text transform="translate(11.5,685) scale(0.908,1)" font-size="10" fill="#000" stroke="#000">RSI(14) 47.4296</text>
<g font-size="10" fill="#000" stroke="#000">
<text transform="translate(1426,683.5) scale(0.883,1)">100</text>
<text transform="translate(1425.5,716.5) scale(0.883,1)">70</text>
<text transform="translate(1425.5,767.5) scale(0.883,1)">30</text>
<text transform="translate(1426,799.5) scale(0.883,1)">0</text>
</g>
<g font-size="10" fill="#000" stroke="#000">
<text transform="translate(5.7,815) scale(0.92,1)">22 Jan 2019</text>
<text transform="translate(69.7,815) scale(0.92,1)">31 Jan 2019</text>
<text transform="translate(133.7,815) scale(0.92,1)">10 Feb 2019</text>
<text transform="translate(197.7,815) scale(0.92,1)">19 Feb 2019</text>
<text transform="translate(261.7,815) scale(0.92,1)">28 Feb 2019</text>
<text transform="translate(325.7,815) scale(0.92,1)">10 Mar 2019</text>
<text transform="translate(389.7,815) scale(0.92,1)">19 Mar 2019</text>
<text transform="translate(453.7,815) scale(0.92,1)">28 Mar 2019</text>
<text transform="translate(517.7,815) scale(0.92,1)">7 Apr 2019</text>
<text transform="translate(581.7,815) scale(0.92,1)">16 Apr 2019</text>
<text transform="translate(645.7,815) scale(0.92,1)">26 Apr 2019</text>
<text transform="translate(709.7,815) scale(0.92,1)">6 May 2019</text>
<text transform="translate(773.7,815) scale(0.92,1)">15 May 2019</text>
<text transform="translate(837.7,815) scale(0.92,1)">24 May 2019</text>
<text transform="translate(901.7,815) scale(0.92,1)">3 Jun 2019</text>
<text transform="translate(965.7,815) scale(0.92,1)">12 Jun 2019</text>
<text transform="translate(1029.7,815) scale(0.92,1)">21 Jun 2019</text>
<text transform="translate(1093.7,815) scale(0.92,1)">1 Jul 2019</text>
</g>
<g shape-rendering="crispEdges">
<rect x="2" y="825" width="1460" height="1" fill="#000"/>
<rect x="4" y="826" width="1458" height="1" fill="#ffffff"/>
<rect x="2" y="826" width="2" height="18" fill="#8a8a8a"/>
<rect x="4" y="826" width="1" height="18" fill="#ffffff"/>
<rect x="224" y="844" width="109" height="1" fill="#c4c4c4"/>
<rect x="0" y="844" width="4" height="1" fill="#a0a0a0"/>
<rect x="0" y="432" width="2" height="1" fill="#a8a8a8"/>
<rect x="0" y="433" width="2" height="1" fill="#fafafa"/>
<rect x="224" y="825" width="108" height="19" fill="#000"/>
<rect x="225" y="825" width="106" height="18" fill="#ffffff"/>
<rect x="116" y="828" width="1" height="14" fill="#8c8c8c"/>
<rect x="441" y="828" width="1" height="14" fill="#8c8c8c"/>
<rect x="552" y="828" width="1" height="14" fill="#8c8c8c"/>
<rect x="672" y="828" width="1" height="14" fill="#8c8c8c"/>
<rect x="768" y="828" width="1" height="14" fill="#8c8c8c"/>
<rect x="864" y="828" width="1" height="14" fill="#8c8c8c"/>
<rect x="944" y="828" width="1" height="14" fill="#8c8c8c"/>
</g>
<g font-size="12">
<text x="19.5" y="840" fill="#6a6a6a" stroke="#6a6a6a" stroke-width="0.15">EURUSD-,Daily</text>
<text x="126" y="840" fill="#6a6a6a" stroke="#6a6a6a" stroke-width="0.15">AUDUSD-,Daily</text>
<text x="236.5" y="840" fill="#000" stroke="#000" stroke-width="0.15">USDCHF-,Daily</text>
<text x="343.5" y="840" fill="#6a6a6a" stroke="#6a6a6a" stroke-width="0.15">USDCAD-,Daily</text>
<text x="453" y="840" fill="#6a6a6a" stroke="#6a6a6a" stroke-width="0.15">USDCNH-,Daily</text>
<text x="563.5" y="840" fill="#6a6a6a" stroke="#6a6a6a" stroke-width="0.15">EURCHF-,Weekly</text>
<text x="683" y="840" fill="#6a6a6a" stroke="#6a6a6a" stroke-width="0.15">XAUUSD-,H1</text>
<text x="779" y="840" fill="#6a6a6a" stroke="#6a6a6a" stroke-width="0.15">GBPUSD-,H1</text>
<text x="876" y="840" fill="#6a6a6a" stroke="#6a6a6a" stroke-width="0.15">UKOil-,H1</text>
</g>
<polygon points="1441,831 1441,837 1438,834" fill="#9a9a9a"/>
<polygon points="1457,831 1457,837 1460,834" fill="#9a9a9a"/>
</svg></body></html>
